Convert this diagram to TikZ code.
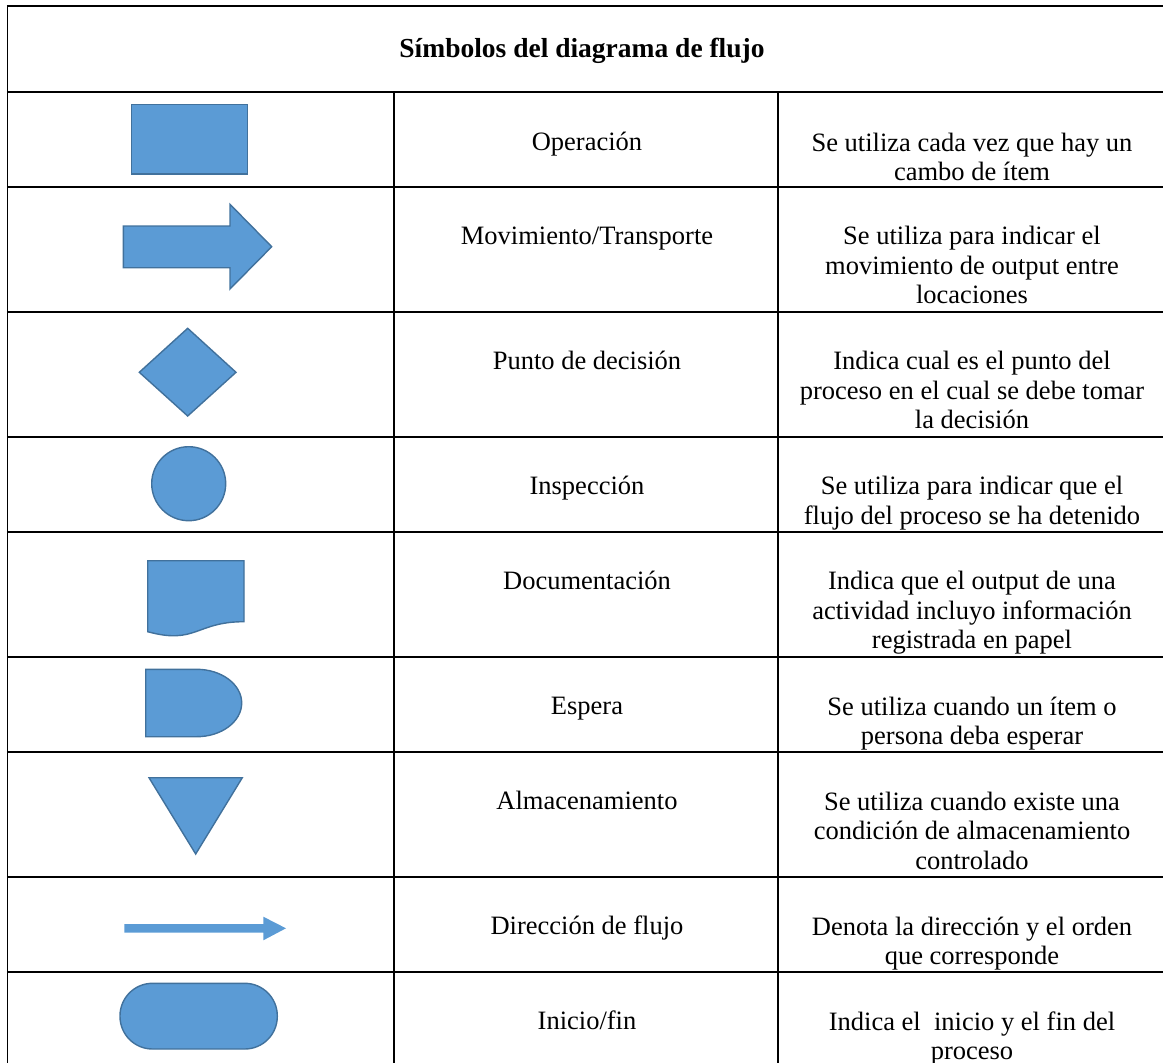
\documentclass[tikz,border=0pt]{standalone}
\usepackage{fontspec}
\setmainfont{Liberation Serif}
\definecolor{symfill}{HTML}{5B9BD5}
\definecolor{symline}{HTML}{41719C}
\newcommand{\cell}[1]{\begin{tabular}[t]{@{}c@{}}#1\end{tabular}}
\begin{document}
\begin{tikzpicture}[x=1pt,y=-1pt,
  rule/.style={line width=1.5pt, black},
  sym/.style={fill=symfill, draw=symline, line width=1.4pt, line join=miter},
  lbl/.style={font=\fontsize{26.5}{29.5}\selectfont, anchor=base, inner sep=0pt},
]
\useasboundingbox (0,0) rectangle (1163,1063);

% table rules
\foreach \yy in {6,92,187,312,437,532,657,752,877,972}
  \draw[rule] (6.75,\yy) -- (1163,\yy);
\draw[rule, line width=1.7pt] (7.5,5.2) -- (7.5,1063);
\draw[rule] (394,92) -- (394,1063);
\draw[rule] (778,92) -- (778,1063);

% title
\node[lbl, font=\fontsize{27.5}{30}\selectfont\bfseries] (title) at (582,57) {Símbolos del diagrama de flujo};

% symbol names
\node[lbl] (n1) at (587,150) {Operación};
\node[lbl] (n2) at (587,244.5) {Movimiento/Transporte};
\node[lbl] (n3) at (587,369.5) {Punto de decisión};
\node[lbl] (n4) at (587,494.5) {Inspección};
\node[lbl] (n5) at (587,589.5) {Documentación};
\node[lbl] (n6) at (587,714.5) {Espera};
\node[lbl] (n7) at (587,809.5) {Almacenamiento};
\node[lbl] (n8) at (587,934.5) {Dirección de flujo};
\node[lbl] (n9) at (587,1029.5) {Inicio/fin};

% descriptions
\node[lbl] (d1) at (972,151) {\cell{Se utiliza cada vez que hay un\\cambo de ítem}};
\node[lbl] (d2) at (972,244.5) {\cell{Se utiliza para indicar el\\movimiento de output entre\\locaciones}};
\node[lbl] (d3) at (972,369.5) {\cell{Indica cual es el punto del\\proceso en el cual se debe tomar\\la decisión}};
\node[lbl] (d4) at (972,494.5) {\cell{Se utiliza para indicar que el\\flujo del proceso se ha detenido}};
\node[lbl] (d5) at (972,589.5) {\cell{Indica que el output de una\\actividad incluyo información\\registrada en papel}};
\node[lbl] (d6) at (972,715) {\cell{Se utiliza cuando un ítem o\\persona deba esperar}};
\node[lbl] (d7) at (972,810) {\cell{Se utiliza cuando existe una\\condición de almacenamiento\\controlado}};
\node[lbl] (d8) at (972,935) {\cell{Denota la dirección y el orden\\que corresponde}};
\node[lbl] (d9) at (972,1030) {\cell{Indica el \ inicio y el fin del\\proceso}};

% operation: rectangle
\draw[sym] (131.7,104.3) rectangle (247.3,174);

% transport: block arrow
\draw[sym] (123.3,226) -- (230,226) -- (230,204.3) -- (271.7,246.7)
  -- (230,289) -- (230,267.7) -- (123.3,267.7) -- cycle;

% decision: diamond
\draw[sym] (187.7,328.3) -- (236,372.3) -- (187.7,416) -- (139.3,372.3) -- cycle;

% inspection: circle
\draw[sym] (188.7,483.7) circle[radius=37];

% document: wavy bottom
\draw[sym] (147.7,560.7) -- (244,560.7) -- (244,621.7)
  .. controls (195.85,621.7) and (195.85,644.9) .. (147.7,631.7) -- cycle;

% delay: D shape
\draw[sym] (145.7,669.3) -- (196.7,669.3)
  .. controls (221.55,669.3) and (241.7,684.4) .. (241.7,703)
  .. controls (241.7,721.6) and (221.55,736.7) .. (196.7,736.7)
  -- (145.7,736.7) -- cycle;

% storage: inverted triangle
\draw[sym] (149,777.7) -- (242.3,777.7) -- (195.7,854) -- cycle;

% flow direction: thin arrow
\fill[symfill] (124.3,924) -- (263.3,924) -- (263.3,916.7) -- (286,928.3)
  -- (263.3,940.3) -- (263.3,932.7) -- (124.3,932.7) -- cycle;

% start/end: terminator
\draw[sym, rounded corners=32.5pt] (120,983.3) rectangle (277.3,1049);
\end{tikzpicture}
\end{document}
